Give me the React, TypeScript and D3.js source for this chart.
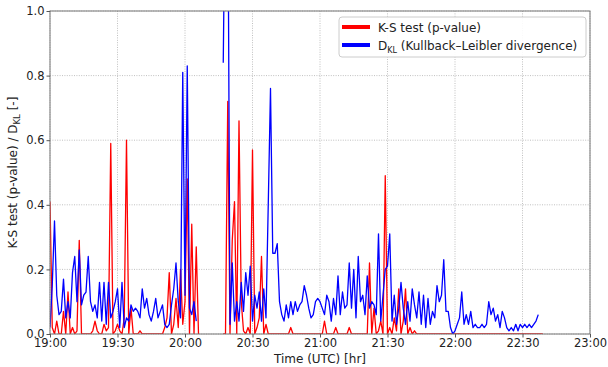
import React, { useEffect, useRef } from 'react';
import * as d3 from 'd3';

// minutes after 19:00, one sample per minute; null = no data
const timeTickMinutes = [0, 30, 60, 90, 120, 150, 180, 210, 240];
const timeTickLabels = ['19:00', '19:30', '20:00', '20:30', '21:00', '21:30', '22:00', '22:30', '23:00'];
const yTicks = [0, 0.2, 0.4, 0.6, 0.8, 1.0];

const ksPValue: (number | null)[] = [
  0.41, 0.02, 0, 0.04, 0, 0, 0.07, 0, 0.13, 0,
  0.02, 0, 0.01, 0.29, 0, 0, 0, 0, 0, 0.01,
  0.04, 0.01, 0, 0, 0.03, 0.01, 0.02, 0.59, 0, 0.01,
  0.03, 0.01, 0, 0.05, 0.6, 0, 0.08, 0, 0, 0,
  0.01, 0, 0, 0, 0, 0, 0, 0, 0, 0,
  0, 0.02, 0.05, 0.19, 0, 0.03, 0.11, 0.02, 0.2, 0.03,
  0.1, 0.48, 0, 0.34, 0, 0.27, 0, null, null, null,
  null, null, null, null, null, null, null, 0, 0, 0.72,
  0, 0.29, 0.41, 0, 0.66, 0.1, 0.01, 0, 0.02, 0,
  0.57, 0, 0.02, 0.05, 0.24, 0, 0.03, 0, 0, 0,
  0, 0, 0, 0, 0, 0, 0, 0.02, 0, 0,
  0, 0, 0, 0, 0, 0, 0, 0, 0, 0,
  0, 0, 0.04, 0, 0, 0, 0, 0.02, 0, 0,
  0, 0, 0, 0.02, 0, 0, 0, 0, 0, 0,
  0, 0, 0.22, 0, 0.08, 0, 0.01, 0.04, 0, 0.49,
  0, 0.02, 0, 0.05, 0.01, 0.14, 0, 0.04, 0.14, 0,
  0.02, 0, 0.01, 0, 0, 0, 0, 0, 0, 0,
  0, 0, 0, 0, 0, 0, 0, 0, 0, 0,
  0, 0, 0, 0, 0, 0, 0, 0, 0, 0,
  0, 0, 0, 0, 0, 0, 0, 0, 0, 0,
  0, 0, 0, 0, 0, 0, 0, 0, 0, 0,
  0, 0, 0, 0, 0, 0, 0, 0, 0, 0,
];

const dklValue: (number | null)[] = [
  0.02, 0.15, 0.35, 0.12, 0.06, 0.07, 0.17, 0.05, 0.1, 0.05,
  0.19, 0.24, 0.1, 0.26, 0.09, 0.12, 0.13, 0.24, 0.1, 0.07,
  0.09, 0.05, 0.16, 0.04, 0.16, 0.03, 0.16, 0.05, 0.07, 0.1,
  0.14, 0.02, 0.16, 0.02, 0.05, 0.04, 0.09, 0.07, 0.08, 0.07,
  0.05, 0.14, 0.08, 0.11, 0.06, 0.04, 0.07, 0.11, 0.05, 0.07,
  0.09, 0.03, 0.02, 0.03, 0.09, 0.14, 0.22, 0.1, 0.05, 0.81,
  0.12, 0.83, 0.08, 0.06, 0.1, 0.04, null, null, null, null,
  null, null, null, null, null, null, null, 0.84, 1.5, 1.5,
  0.03, 0.22, 0.04, 0.1, 0.04, 0.16, 0.07, 0.19, 0.12, 0.21,
  0.04, 0.12, 0.08, 0.13, 0.04, 0.14, 0.05, 0.4, 0.76, 0.25,
  0.25, 0.28, 0.1, 0.06, 0.04, 0.09, 0.05, 0.1, 0.06, 0.1,
  0.07, 0.09, 0.1, 0.15, 0.12, 0.08, 0.05, 0.06, 0.1, 0.11,
  0.1, 0.08, 0.06, 0.12, 0.1, 0.04, 0.11, 0.06, 0.18, 0.06,
  0.13, 0.08, 0.09, 0.22, 0.08, 0.2, 0.05, 0.24, 0.1, 0.12,
  0.06, 0.18, 0.08, 0.1, 0.09, 0.06, 0.31, 0.04, 0.12, 0.2,
  0.21, 0.31, 0.04, 0.12, 0.03, 0.08, 0.16, 0.08, 0.03, 0.1,
  0.04, 0.14, 0.09, 0.05, 0.13, 0.03, 0.12, 0.02, 0.11, 0.03,
  0.07, 0.05, 0.15, 0.1, 0.12, 0.23, 0.07, 0.07, 0.02, 0.0,
  0.01, 0.03, 0.05, 0.13, 0.03, 0.06, 0.03, 0.07, 0.02, 0.03,
  0.02, 0.02, 0.03, 0.02, 0.03, 0.1, 0.06, 0.08, 0.04, 0.06,
  0.02, 0.07, 0.05, 0.02, 0.01, 0.02, 0.01, 0.03, 0.01, 0.03,
  0.02, 0.03, 0.02, 0.03, 0.02, 0.03, 0.04, 0.06,
];

const FONT = 'DejaVu Sans, sans-serif';

export default function App() {
  const ref = useRef<SVGSVGElement>(null);

  useEffect(() => {
    if (!ref.current) return;
    const root = d3.select(ref.current);
    root.selectAll('*').remove();

    const width = 608, height = 367;
    const margin = { top: 11, right: 18, bottom: 33, left: 50 };
    const iw = width - margin.left - margin.right;
    const ih = height - margin.top - margin.bottom;

    const x = d3.scaleLinear().domain([0, 240]).range([0, iw]);
    const y = d3.scaleLinear().domain([0, 1]).range([ih, 0]);

    const g = root.append('g').attr('transform', `translate(${margin.left},${margin.top})`);

    root.append('defs').append('clipPath').attr('id', 'plot-clip')
      .append('rect').attr('width', iw).attr('height', ih);

    // grid
    g.append('g').selectAll('line.vg').data(timeTickMinutes).enter().append('line')
      .attr('x1', d => x(d)).attr('x2', d => x(d)).attr('y1', 0).attr('y2', ih)
      .attr('stroke', '#b0b0b0').attr('stroke-width', 0.8).attr('stroke-dasharray', '1,1.4');
    g.append('g').selectAll('line.hg').data(yTicks).enter().append('line')
      .attr('x1', 0).attr('x2', iw).attr('y1', d => y(d)).attr('y2', d => y(d))
      .attr('stroke', '#b0b0b0').attr('stroke-width', 0.8).attr('stroke-dasharray', '1,1.4');

    const line = d3.line<number | null>()
      .defined(d => d !== null)
      .x((_, i) => x(i))
      .y(d => y(d as number));

    const plot = g.append('g').attr('clip-path', 'url(#plot-clip)');
    plot.append('path').datum(ksPValue).attr('d', line).attr('fill', 'none')
      .attr('stroke', '#ff0000').attr('stroke-width', 1.3).attr('stroke-linejoin', 'round');
    plot.append('path').datum(dklValue).attr('d', line).attr('fill', 'none')
      .attr('stroke', '#0000ff').attr('stroke-width', 1.3).attr('stroke-linejoin', 'round');

    // frame
    g.append('rect').attr('width', iw).attr('height', ih).attr('fill', 'none')
      .attr('stroke', '#777').attr('stroke-width', 1);

    const xAxis = g.append('g').attr('transform', `translate(0,${ih})`)
      .call(d3.axisBottom(x).tickValues(timeTickMinutes).tickSize(3.5).tickPadding(1.5)
        .tickFormat((_, i) => timeTickLabels[i]));
    const yAxis = g.append('g')
      .call(d3.axisLeft(y).tickValues(yTicks).tickSize(3.5).tickPadding(2).tickFormat(d3.format('.1f')));
    [xAxis, yAxis].forEach(a => {
      a.select('.domain').remove();
      a.selectAll('line').attr('stroke', '#555');
      a.selectAll('text').attr('font-family', FONT).attr('font-size', '11.5px').attr('fill', '#222');
    });

    // axis titles
    root.append('text').attr('x', margin.left + iw / 2).attr('y', 362.5).attr('text-anchor', 'middle')
      .attr('font-family', FONT).attr('font-size', '12px').attr('fill', '#222').text('Time (UTC) [hr]');
    const yl = root.append('text').attr('transform', `translate(17,${margin.top + ih / 2}) rotate(-90)`)
      .attr('text-anchor', 'middle').attr('font-family', FONT).attr('font-size', '12px').attr('fill', '#222');
    yl.append('tspan').text('K-S test (p-value) / D');
    yl.append('tspan').attr('font-size', '8.5px').attr('dy', 3).text('KL');
    yl.append('tspan').attr('dy', -3).text(' [-]');

    // legend
    const lg = root.append('g').attr('transform', 'translate(339,17)');
    lg.append('rect').attr('width', 247).attr('height', 40).attr('rx', 3)
      .attr('fill', '#fff').attr('fill-opacity', 0.9).attr('stroke', '#cccccc');
    const items = [
      { color: '#ff0000', main: 'K-S test (p-value)', sub: '', rest: '' },
      { color: '#0000ff', main: 'D', sub: 'KL', rest: ' (Kullback\u2013Leibler divergence)' },
    ];
    items.forEach((it, i) => {
      const cy = 10 + i * 18;
      lg.append('line').attr('x1', 3).attr('x2', 31).attr('y1', cy).attr('y2', cy)
        .attr('stroke', it.color).attr('stroke-width', 4);
      const t = lg.append('text').attr('x', 39).attr('y', cy + 4.5)
        .attr('font-family', FONT).attr('font-size', '12px').attr('fill', '#222');
      t.append('tspan').text(it.main);
      if (it.sub) {
        t.append('tspan').attr('font-size', '8px').attr('dy', 3).text(it.sub);
        t.append('tspan').attr('dy', -3).text(it.rest);
      }
    });
  }, []);

  return (
    <svg ref={ref} width={608} height={367}
      style={{ position: 'absolute', left: 0, top: 0, background: '#fff' }} />
  );
}
